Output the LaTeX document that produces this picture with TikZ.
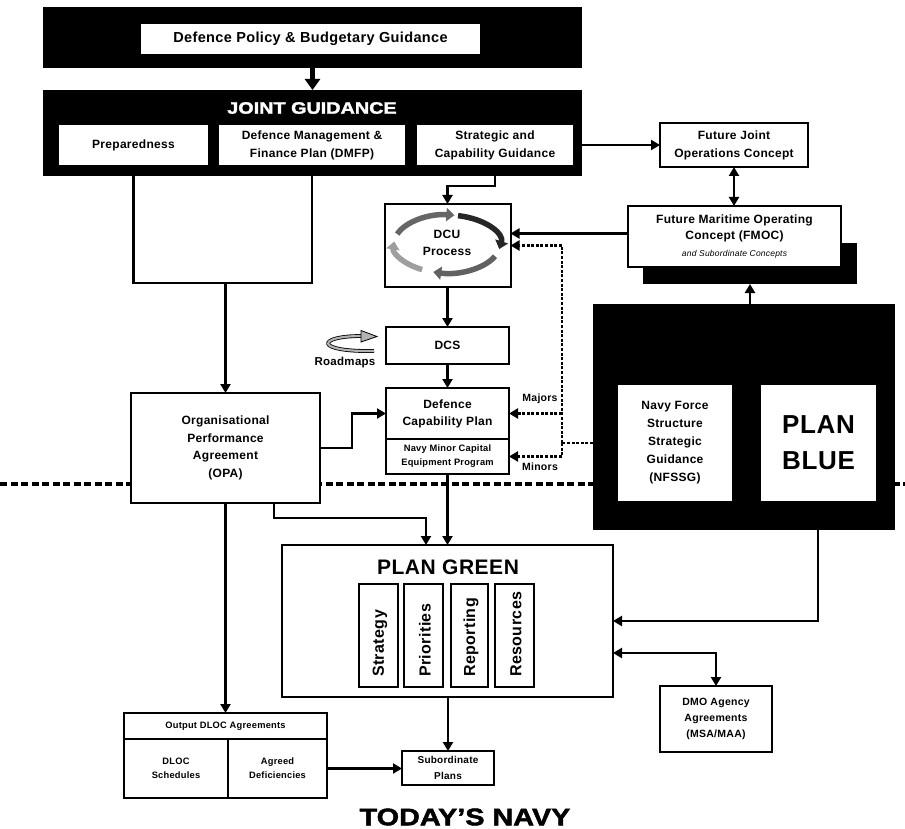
\documentclass[tikz,border=0pt]{standalone}
\usepackage{fontspec}
\setmainfont{Liberation Sans}[LetterSpace=2.5]
\newfontfamily\heavyfont[FakeBold=2,FakeStretch=1.2]{Liberation Sans}
\usetikzlibrary{arrows.meta}
\newcommand\fsz[2]{\fontsize{#1pt}{#2pt}\selectfont}

\begin{document}
\begin{tikzpicture}[x=1pt,y=-1pt,
  box/.style={draw, line width=2pt, fill=white, inner sep=0pt, outer sep=0pt,
    align=center, font=\bfseries\fsz{12}{18}},
  blk/.style={fill=black, inner sep=0pt, outer sep=0pt},
  conn/.style={line width=2.6pt, -{Triangle[length=9pt,width=10pt]}},
  dconn/.style={line width=2.6pt, {Triangle[length=9pt,width=10pt]}-{Triangle[length=9pt,width=10pt]}},
  plain/.style={line width=2.6pt},
  dotline/.style={line width=2.2pt, dash pattern=on 3pt off 1.6pt},
  dotconn/.style={dotline, -{Triangle[length=9pt,width=10pt]}},
  divider/.style={line width=4.5pt, dash pattern=on 7pt off 3.5pt},
  cyc/.style={line width=5.5pt, -{Triangle[length=8pt,width=13pt]}},
  lbl/.style={inner sep=0pt, font=\bfseries\fsz{10.5}{12}}
]
% page
\fill[white] (0,0) rectangle (905,829);
\path[use as bounding box] (0,0) rectangle (905,829);

% horizontal divider between planning and today's navy
\draw[divider] (0,484) -- (905,484);

% ---- Defence policy and joint guidance ----
\node[blk, minimum width=539pt, minimum height=61pt] (topblk) at (312.5,37.5) {};
\node[box, minimum width=341pt, minimum height=32pt, font=\bfseries\fsz{14.5}{17}] (dpbg) at (310.5,39)
  {Defence Policy \& Budgetary Guidance};
\node[blk, minimum width=539pt, minimum height=86pt] (jointblk) at (312.5,133) {};
\node[text=white, inner sep=0pt, font=\heavyfont\bfseries\fsz{16.5}{18}] (jgtitle) at (312,108) {JOINT GUIDANCE};
\node[box, minimum width=151pt, minimum height=42pt] (prep) at (133.5,145) {Preparedness};
\node[box, minimum width=188pt, minimum height=42pt] (dmfp) at (312,145) {Defence Management \&\\Finance Plan (DMFP)};
\node[box, minimum width=158pt, minimum height=42pt] (scg) at (495,145) {Strategic and\\Capability Guidance};

% ---- future concepts ----
\node[box, minimum width=148pt, minimum height=44pt] (fjoc) at (734,145) {Future Joint\\Operations Concept};
\node[blk, minimum width=214pt, minimum height=41pt] (fmocsh) at (750,263.5) {};
\node[box, minimum width=213pt, minimum height=61pt, font=\bfseries\fsz{12}{16.5}] (fmoc) at (734.5,236.5)
  {Future Maritime Operating\\Concept (FMOC)\\{\mdseries\itshape\fsz{8.5}{16.5}and Subordinate Concepts}};

% ---- DCU process ----
\node[box, minimum width=126pt, minimum height=83pt] (dcu) at (447.5,245.5) {};
\coordinate (dcucen) at (447,244);
\draw[cyc, black!60] (dcucen) ++(200:53 and 29) arc (200:278:53 and 29);
\draw[cyc, black!85] (dcucen) ++(282:53 and 29) arc (282:370:53 and 29);
\draw[cyc, black!62] (dcucen) ++(25:53 and 29) arc (25:105:53 and 29);
\draw[cyc, black!38] (dcucen) ++(118:53 and 29) arc (118:185:53 and 29);
\node[inner sep=0pt, align=center, font=\bfseries\fsz{12}{17}] (dcutxt) at (447,243) {DCU\\Process};

\node[box, minimum width=123pt, minimum height=37pt, font=\bfseries\fsz{12}{14}] (dcs) at (447.5,345.5) {DCS};
\node[box, minimum width=123pt, minimum height=51pt, font=\bfseries\fsz{12}{17}] (dcp) at (447.5,413.5) {Defence\\Capability Plan};
\node[box, minimum width=123pt, minimum height=35pt, font=\bfseries\fsz{9.3}{14}] (minor) at (447.5,456.5) {Navy Minor Capital\\Equipment Program};

% roadmaps ribbon
\draw[line width=3.8pt] (374,351) .. controls (314,352) and (316,336) .. (362,336);
\draw[line width=2.2pt, black!30] (374,351) .. controls (314,352) and (316,336) .. (362,336);
\filldraw[fill=black!30, line width=0.8pt] (361,330.5) -- (377,336.5) -- (361,342) -- cycle;
\node[lbl, font=\bfseries\fsz{11.5}{13}] (roadmaps) at (345,363) {Roadmaps};

% ---- organisational performance agreement ----
\node[box, minimum width=189pt, minimum height=110pt, font=\bfseries\fsz{12}{17.5}] (opa) at (225.5,448)
  {Organisational\\Performance\\Agreement\\(OPA)};

% ---- plan blue ----
\node[blk, minimum width=302pt, minimum height=226pt] (blueblk) at (744,417) {};
\node[box, minimum width=116pt, minimum height=118pt, font=\bfseries\fsz{12}{18}] (nfssg) at (675,443)
  {Navy Force\\Structure\\Strategic\\Guidance\\(NFSSG)};
\node[box, minimum width=117pt, minimum height=118pt, font=\bfseries\fsz{26}{36}] (planblue) at (818.5,443) {PLAN\\BLUE};

% ---- plan green ----
\node[box, minimum width=331pt, minimum height=152pt] (green) at (447.5,621) {};
\node[inner sep=0pt, font=\bfseries\fsz{21}{24}] (greentitle) at (448,567) {PLAN GREEN};
\foreach \nm/\cx/\w/\t in {strat/378.5/39/Strategy, prio/423.5/39/Priorities, rep/469.5/37/Reporting, res/514.5/39/Resources}{
  \node[box, minimum width=\w pt, minimum height=103pt] (\nm) at (\cx,635.5) {};
  \node[rotate=90, anchor=west, inner sep=0pt, font=\bfseries\fsz{16}{18}] (\nm txt) at (\cx+1.5,677) {\t};
}

% ---- agreements and subordinate plans ----
\node[box, minimum width=112pt, minimum height=66pt, font=\bfseries\fsz{10.5}{16}] (dmo) at (716,719)
  {DMO Agency\\Agreements\\(MSA/MAA)};
\node[box, minimum width=203pt, minimum height=26pt, font=\bfseries\fsz{9.3}{12}] (dloch) at (225.5,726) {Output DLOC Agreements};
\node[box, minimum width=104pt, minimum height=59pt, font=\bfseries\fsz{9.3}{14}] (dsched) at (176,768.5) {DLOC\\Schedules};
\node[box, minimum width=99pt, minimum height=59pt, font=\bfseries\fsz{9.3}{14}] (adef) at (277.5,768.5) {Agreed\\Deficiencies};
\node[box, minimum width=92pt, minimum height=34pt, font=\bfseries\fsz{10}{16}] (sub) at (448,768) {Subordinate\\Plans};

\node[inner sep=0pt, font=\heavyfont\bfseries\fsz{24}{26}] (navy) at (465,817) {TODAY’S NAVY};

% ---- connectors ----
\draw[line width=4.5pt, -{Triangle[length=11pt,width=15pt]}] (topblk.south) -- (jointblk.north);

\coordinate (jgbar) at (225.5,283);
\draw[plain] (prep.south) -- (prep.south |- jgbar) -- (dmfp.south |- jgbar) -- (dmfp.south);
\draw[conn] (jgbar) -- (opa.north);

\draw[conn] (scg.south) -- ++(0,20) -| (dcu.north);
\draw[conn] (scg.east) -- (fjoc.west);
\draw[dconn] (fjoc.south) -- (fjoc.south |- fmoc.north);
\coordinate (fmocin) at ([yshift=3pt]fmoc.west);
\draw[conn] (fmocin) -- (fmocin -| dcu.east);
\draw[conn] (fmocsh.south |- blueblk.north) -- (fmocsh.south);

\draw[conn] (dcu.south) -- (dcs.north);
\draw[conn] (dcs.south) -- (dcp.north);
\draw[conn] (minor.south) -- (minor.south |- green.north);

% NFSSG feeds the DCU, majors and minors
\coordinate (dvx) at (562,443);
\draw[dotline] (blueblk.west |- nfssg.west) -- (dvx);
\draw[dotconn] (dvx) |- (dcu.east);
\draw[dotconn] (dvx |- dcp.east) -- (dcp.east);
\draw[dotconn] (dvx) |- (minor.east);
\node[lbl] (majors) at (540,399) {Majors};
\node[lbl] (minors) at (540,467) {Minors};

\draw[conn] (opa.east) -- ++(32,0) |- (dcp.west);
\coordinate (opaout) at ([xshift=48.5pt]opa.south);
\coordinate (greenin) at ([xshift=-21.5pt]green.north);
\draw[conn] (opaout) -- ++(0,15) -| (greenin);
\draw[conn] (opa.south) -- (dloch.north);

\coordinate (blueout) at ([xshift=74pt]blueblk.south);
\draw[conn] (blueout) |- (green.east);
\coordinate (greendmo) at ([yshift=-32pt]green.east);
\draw[dconn] (greendmo) -| (dmo.north);

\draw[conn] (adef.east) -- (adef.east -| sub.west);
\draw[conn] (green.south -| sub.north) -- (sub.north);
\end{tikzpicture}
\end{document}
